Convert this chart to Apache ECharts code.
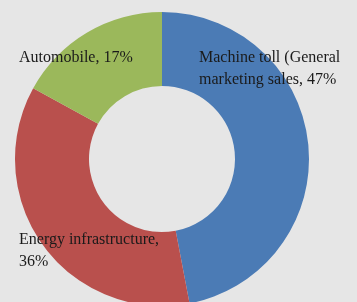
<!DOCTYPE html>
<html>
<head>
<meta charset="utf-8">
<script src="https://cdn.jsdelivr.net/npm/echarts@6/dist/echarts.min.js"></script>
<style>
  html, body { margin: 0; padding: 0; background: #e6e6e6; }
  #main { width: 357px; height: 302px; }
</style>
</head>
<body>
<div id="main"></div>
<script>
const categories = [
  "Machine toll (General\nmarketing sales",
  "Energy infrastructure",
  "Automobile",
];
const values = [47, 36, 17];
const colors = ["#4b7bb5", "#b9504d", "#9bb85b"];

// where each label sits (pixels, top-left of text block)
const labelPos = [
  { x: 199, y: 47 },
  { x: 19, y: 229 },
  { x: 19, y: 47 },
];

const chart = echarts.init(document.getElementById("main"));
chart.setOption({
  backgroundColor: "#e6e6e6",
  animation: false,
  series: [
    {
      type: "pie",
      center: [162, 159],
      radius: [73, 147],
      startAngle: 90,
      clockwise: true,
      data: categories.map((name, i) => ({
        name: name,
        value: values[i],
        itemStyle: { color: colors[i] },
      })),
      label: {
        show: true,
        position: "inside",
        overflow: "none",
        fontFamily: "Liberation Serif",
        fontSize: 16,
        lineHeight: 22,
        color: "#1a1a1a",
        formatter: function (p) {
          if (p.dataIndex === 1) return p.name + ",\n" + p.value + "%";
          return p.name + ", " + p.value + "%";
        },
      },
      labelLine: { show: false },
      labelLayout: function (params) {
        const pos = labelPos[params.dataIndex];
        return {
          x: pos.x,
          y: pos.y,
          align: "left",
          verticalAlign: "top",
          hideOverlap: false,
        };
      },
      emphasis: { disabled: true },
    },
  ],
});
</script>
</body>
</html>
